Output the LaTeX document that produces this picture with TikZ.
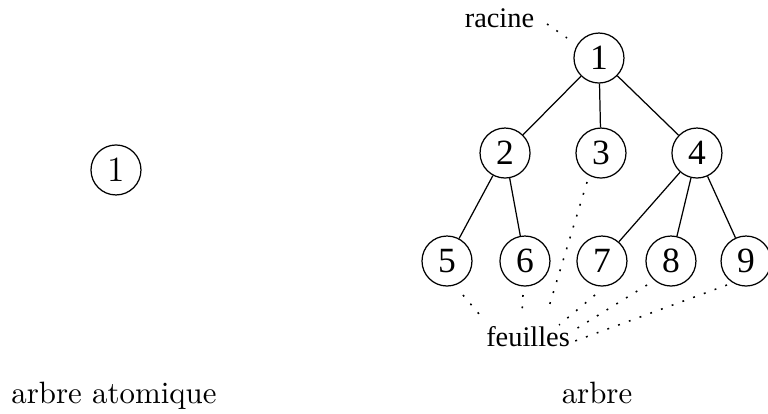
\documentclass[tikz,border=0pt]{standalone}
\usepackage{fontspec}
\newfontfamily\tms{Liberation Serif}
\usetikzlibrary{calc}

\begin{document}
\begin{tikzpicture}[>=stealth, scale=1,
noeud/.style={circle, draw, inner sep=0, minimum size=16.2pt, font=\tms\fontsize{11.5}{13}\selectfont},
noeudlm/.style={circle, draw, inner sep=0, minimum size=16.2pt, font=\fontsize{11.5}{13}\selectfont},
arete/.style={-},
pointille/.style={dash pattern=on 0.6pt off 3.1pt, line width=0.5pt},
etiquette/.style={anchor=base, inner sep=2pt, font=\tms\fontsize{9.2}{11}\selectfont},
legende/.style={anchor=base, inner sep=0}]

% SIZE OF THE PICTURE
\useasboundingbox (0,0) rectangle (8.747,4.704);
%%%%%%%%% ARBRE ATOMIQUE %%%%%%%%%
\node[noeudlm] (A1) at (1.321,2.768) {1};
\node[legende] (LA) at (1.298,0.103) {arbre atomique};
%%%%%%%%% ARBRE %%%%%%%%%%%%%%%%%%
\node[noeud] (N1) at (6.822,4.043) {1};
\node[noeud] (N2) at (5.752,2.961) {2};
\node[noeud] (N3) at (6.845,2.961) {3};
\node[noeud] (N4) at (7.938,2.961) {4};
\node[noeud] (N5) at (5.091,1.731) {5};
\node[noeud] (N6) at (5.979,1.731) {6};
\node[noeud] (N7) at (6.856,1.731) {7};
\node[noeud] (N8) at (7.642,1.731) {8};
\node[noeud] (N9) at (8.497,1.731) {9};
\draw[arete] (N1)--(N2);
\draw[arete] (N1)--(N3);
\draw[arete] (N1)--(N4);
\draw[arete] (N2)--(N5);
\draw[arete] (N2)--(N6);
\draw[arete] (N4)--(N7);
\draw[arete] (N4)--(N8);
\draw[arete] (N4)--(N9);
\node[legende] (LB) at (6.800,0.103) {arbre};
% RACINE ET FEUILLES
\node[etiquette] (R) at (5.689,4.396) {racine};
\node[etiquette] (F) at (6.014,0.752) {feuilles};
\coordinate (R0) at (6.230,4.431);
\coordinate (R1) at (6.458,4.271);
\draw[pointille] (R0)--(R1);
% leaf side (L) and feuilles side (G)
\coordinate (L3) at (6.686,2.631); \coordinate (G3) at (6.241,1.173);
\coordinate (L5) at (5.273,1.344); \coordinate (G5) at (5.456,1.128);
\coordinate (L6) at (5.957,1.344); \coordinate (G6) at (5.945,1.150);
\coordinate (L7) at (6.777,1.344); \coordinate (G7) at (6.367,1.002);
\coordinate (L8) at (7.369,1.458); \coordinate (G8) at (6.560,0.957);
\coordinate (L9) at (8.280,1.458); \coordinate (G9) at (6.549,0.820);
\foreach \f in {3,5,6,7,8,9}
  \draw[pointille] (L\f)--(G\f);
\end{tikzpicture}
\end{document}
